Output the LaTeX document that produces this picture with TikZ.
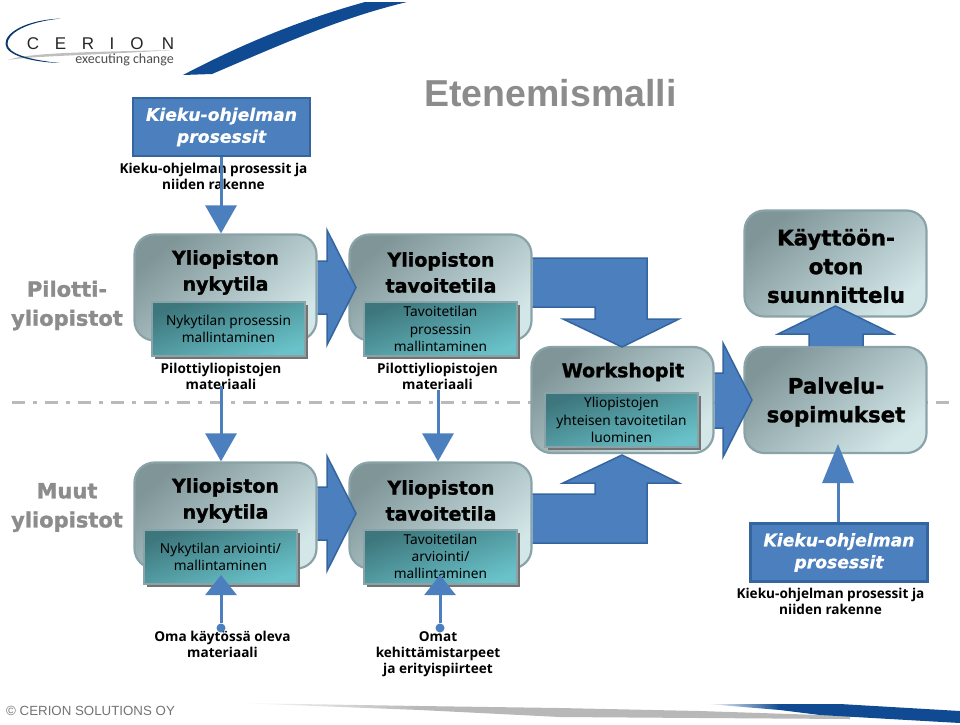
\documentclass[tikz,border=0pt]{standalone}
\usepackage{fontspec}
\setmainfont{Noto Sans}
\newfontfamily\headfont[FakeBold=1.4]{DejaVu Sans Bold}
\newfontfamily\kiekufont[FakeBold=0.8]{DejaVu Sans Bold Oblique}
\newfontfamily\labelfont{Open Sans}
\newfontfamily\arialfont{Liberation Sans}
\newfontfamily\logofont{Carlito}
\usetikzlibrary{arrows.meta,shadows}
\definecolor{arrowfill}{HTML}{4C7FBD}
\definecolor{arrowedge}{HTML}{34659F}
\definecolor{boxedge}{HTML}{8AA3A8}
\definecolor{navy}{HTML}{0F4A92}
\definecolor{BoxDark}{HTML}{7F9597}
\definecolor{BoxLight}{HTML}{D3E7E9}
\definecolor{TealDark}{HTML}{3D767C}
\definecolor{TealLight}{HTML}{69C2C9}
\tikzset{
  bigbox/.style={draw=boxedge,line width=2.2pt,rounded corners=20pt,minimum width=182pt,minimum height=106pt,inner sep=0pt,shading=axis,top color=BoxDark,bottom color=BoxLight,shading angle=40},
  tealbox/.style={draw=boxedge,line width=2pt,minimum width=153pt,minimum height=54pt,inner sep=0pt,shading=axis,top color=TealDark,bottom color=TealLight,shading angle=20,align=center,text=black,font=\fontsize{13.7}{17.2}\selectfont,drop shadow={shadow xshift=3pt,shadow yshift=-3pt,fill=black!55,opacity=1}},
  headtext/.style={font=\headfont\fontsize{19}{26}\selectfont,align=center,text=black},
  headlarge/.style={font=\headfont\fontsize{21.3}{28.7}\selectfont,align=center,text=black},
  smalllabel/.style={font=\labelfont\bfseries\fontsize{13.6}{16}\selectfont,align=center,text=black},
  sidelabel/.style={font=\headfont\fontsize{21}{29}\selectfont,align=center,text=black!45},
  kiekubox/.style={draw=arrowedge,line width=2.6pt,fill=arrowfill,minimum width=177pt,minimum height=58pt,inner sep=0pt,align=center,text=white,font=\kiekufont\fontsize{17.2}{22}\selectfont},
  blockarrow/.style={draw=arrowedge,line width=1.5pt,fill=arrowfill,line join=miter},
  linearrow/.style={draw=arrowfill,line width=3pt,-{Triangle[length=#1,width=31pt,fill=arrowfill]}},
  linearrow/.default=28pt,
  dotnode/.style={circle,fill=arrowfill,minimum size=9pt,inner sep=0pt},
}
\begin{document}
\begin{tikzpicture}[x=1pt,y=-1pt]
\useasboundingbox (0,0) rectangle (960,724);
% swooshes
\fill[navy] (183,75) .. controls (240,45) and (300,20) .. (365,2) -- (407,2) .. controls (340,18) and (280,45) .. (212,74) -- cycle;
\shade[left color=white,right color=black!28] (237,703) -- (420,706) -- (420,710) -- cycle;
\fill[black!28] (420,706) -- (560,708) -- (700,711) -- (850,716) -- (850,719) -- (700,718) -- (560,717) -- (420,710) -- cycle;
\shade[left color=white,right color=navy] (707,704) -- (780,704) -- (780,710) -- cycle;
\fill[navy] (780,704) -- (840,704) -- (960,711) -- (960,723) -- (820,715) -- (780,710) -- cycle;
% logo
\fill[black!25] (8,60) .. controls (30,52) and (100,52) .. (173,50) .. controls (100,55) and (30,56) .. (8,60) -- cycle;
\fill[navy!75!black] (61,18.5) .. controls (25,20) and (5,33) .. (5.5,44) .. controls (6,55) and (30,62) .. (60,63) .. controls (30,60) and (8,54) .. (7.5,44) .. controls (7,34) and (25,22) .. (61,18.5) -- cycle;
\node[font=\arialfont\fontsize{17}{17}\selectfont,text=black!85,anchor=center] (logoc) at (33,43.5) {C};
\node[font=\arialfont\fontsize{17}{17}\selectfont,text=black!85] (logoe) at (60.5,43.5) {E};
\node[font=\arialfont\fontsize{17}{17}\selectfont,text=black!85] (logor) at (88,43.5) {R};
\node[font=\arialfont\fontsize{17}{17}\selectfont,text=black!85] (logoi) at (112,43.5) {I};
\node[font=\arialfont\fontsize{17}{17}\selectfont,text=black!85] (logoo) at (137,43.5) {O};
\node[font=\arialfont\fontsize{17}{17}\selectfont,text=black!85] (logon) at (168,43.5) {N};
\node[font=\logofont\fontsize{14}{14}\selectfont,text=black!70,anchor=east,inner sep=0pt] (logos) at (174,60) {executing change};
% title
\node[font=\arialfont\bfseries\fontsize{37.5}{36}\selectfont,text=black!45] (title) at (550.5,93) {Etenemismalli};
% divider
\coordinate (divl) at (12,402);
\coordinate (divr) at (952,402);
\draw[black!27,line width=3pt,dash pattern=on 13pt off 8pt on 4pt off 8pt] (divl) -- (divr);
% side labels
\node[sidelabel] (pilot) at (67,305.5) {Pilotti-\\yliopistot};
\node[sidelabel] (muut) at (67,507.5) {Muut\\yliopistot};
% big boxes
\node[bigbox] (a1) at (225.5,287.5) {};
\node[bigbox] (a2) at (440.5,287.5) {};
\node[bigbox] (b1) at (225.5,515.5) {};
\node[bigbox] (b2) at (440.5,515.5) {};
\node[bigbox] (ws) at (622.5,400) {};
\node[bigbox] (kay) at (835.5,263.5) {};
\node[bigbox] (pal) at (835.5,400) {};
% teal boxes
\node[tealbox] (ta1) at (228.5,329) {Nykytilan prosessin\\mallintaminen};
\node[tealbox] (ta2) at (440.5,329) {Tavoitetilan\\prosessin\\mallintaminen};
\node[tealbox] (tb1) at (220.5,556.5) {Nykytilan arviointi/\\mallintaminen};
\node[tealbox] (tb2) at (440.5,556.5) {Tavoitetilan\\arviointi/\\mallintaminen};
\node[tealbox] (tws) at (621.5,420) {Yliopistojen\\yhteisen tavoitetilan\\luominen};
% headings
\node[headtext] (ha1) at (225.5,272.5) {Yliopiston\\nykytila};
\node[headtext] (ha2) at (441,272.5) {Yliopiston\\tavoitetila};
\node[headtext] (hb1) at (225.5,500.5) {Yliopiston\\nykytila};
\node[headtext] (hb2) at (441,500.5) {Yliopiston\\tavoitetila};
\node[headtext] (hws) at (623,372) {Workshopit};
\node[headlarge] (hkay) at (836,266) {Käyttöön-\\oton\\suunnittelu};
\node[headlarge] (hpal) at (836,402) {Palvelu-\\sopimukset};
% kieku
\node[kiekubox] (k1) at (221.5,127) {Kieku-ohjelman\\prosessit};
\node[kiekubox] (k2) at (839,552.5) {Kieku-ohjelman\\prosessit};
% labels
\node[smalllabel] (lk1) at (213.5,176) {Kieku-ohjelman prosessit ja\\niiden rakenne};
\node[smalllabel] (lk2) at (830.5,601) {Kieku-ohjelman prosessit ja\\niiden rakenne};
\node[smalllabel] (la1) at (221,376) {Pilottiyliopistojen\\materiaali};
\node[smalllabel] (la2) at (437.5,376) {Pilottiyliopistojen\\materiaali};
\node[smalllabel] (lb1) at (222.5,644) {Oma käytössä oleva\\materiaali};
\node[smalllabel] (lb2) at (438,654) {Omat\\kehittämistarpeet\\ja erityispiirteet};
% block arrows
\draw[blockarrow] (a1.east |- 0,261) -- (327,261) -- (327,230) -- (356,287.5) -- (327,345) -- (327,314) -- (a1.east |- 0,314);
\draw[blockarrow] (b1.east |- 0,487) -- (327,487) -- (327,456) -- (356,513.5) -- (327,571) -- (327,540) -- (b1.east |- 0,540);
\draw[blockarrow] (ws.east |- 0,373) -- (723,373) -- (723,343) -- (752,400) -- (723,457) -- (723,428) -- (ws.east |- 0,428);
\draw[blockarrow] (a2.east |- 0,258) -- (647,258) -- (647,319) -- (679,319) -- (622,347) -- (563,319) -- (595,319) -- (595,307) -- (a2.east |- 0,307);
\draw[blockarrow] (b2.east |- 0,494) -- (595,494) -- (595,483) -- (563,483) -- (622,455) -- (679,483) -- (647,483) -- (647,543) -- (b2.east |- 0,543);
\draw[blockarrow] (809,346) -- (809,334) -- (778,334) -- (835.5,306) -- (893,334) -- (863,334) -- (863,346);
% line arrows
\coordinate (ua) at (221,575);
\coordinate (ub) at (440,575);
\node[dotnode] (da) at (221,628) {};
\node[dotnode] (db) at (440,628) {};
\coordinate (palin) at (838,444);
\coordinate (k1src) at (221,157);
\coordinate (a1src) at (221,386);
\coordinate (a2src) at (438,390);
\draw[linearrow] (k1src) -- (k1src |- a1.north);
\draw[linearrow] (a1src) -- (a1src |- b1.north);
\draw[linearrow] (a2src) -- (a2src |- b2.north);
\draw[linearrow=20pt] (da) -- (ua);
\draw[linearrow=20pt] (db) -- (ub);
\draw[linearrow=39pt] (k2.north -| palin) -- (palin);
% footer
\node[font=\arialfont\fontsize{13.3}{14}\selectfont,text=black!55,anchor=west,inner sep=0pt] (copy) at (6,711) {© CERION SOLUTIONS OY};
\end{tikzpicture}
\end{document}
